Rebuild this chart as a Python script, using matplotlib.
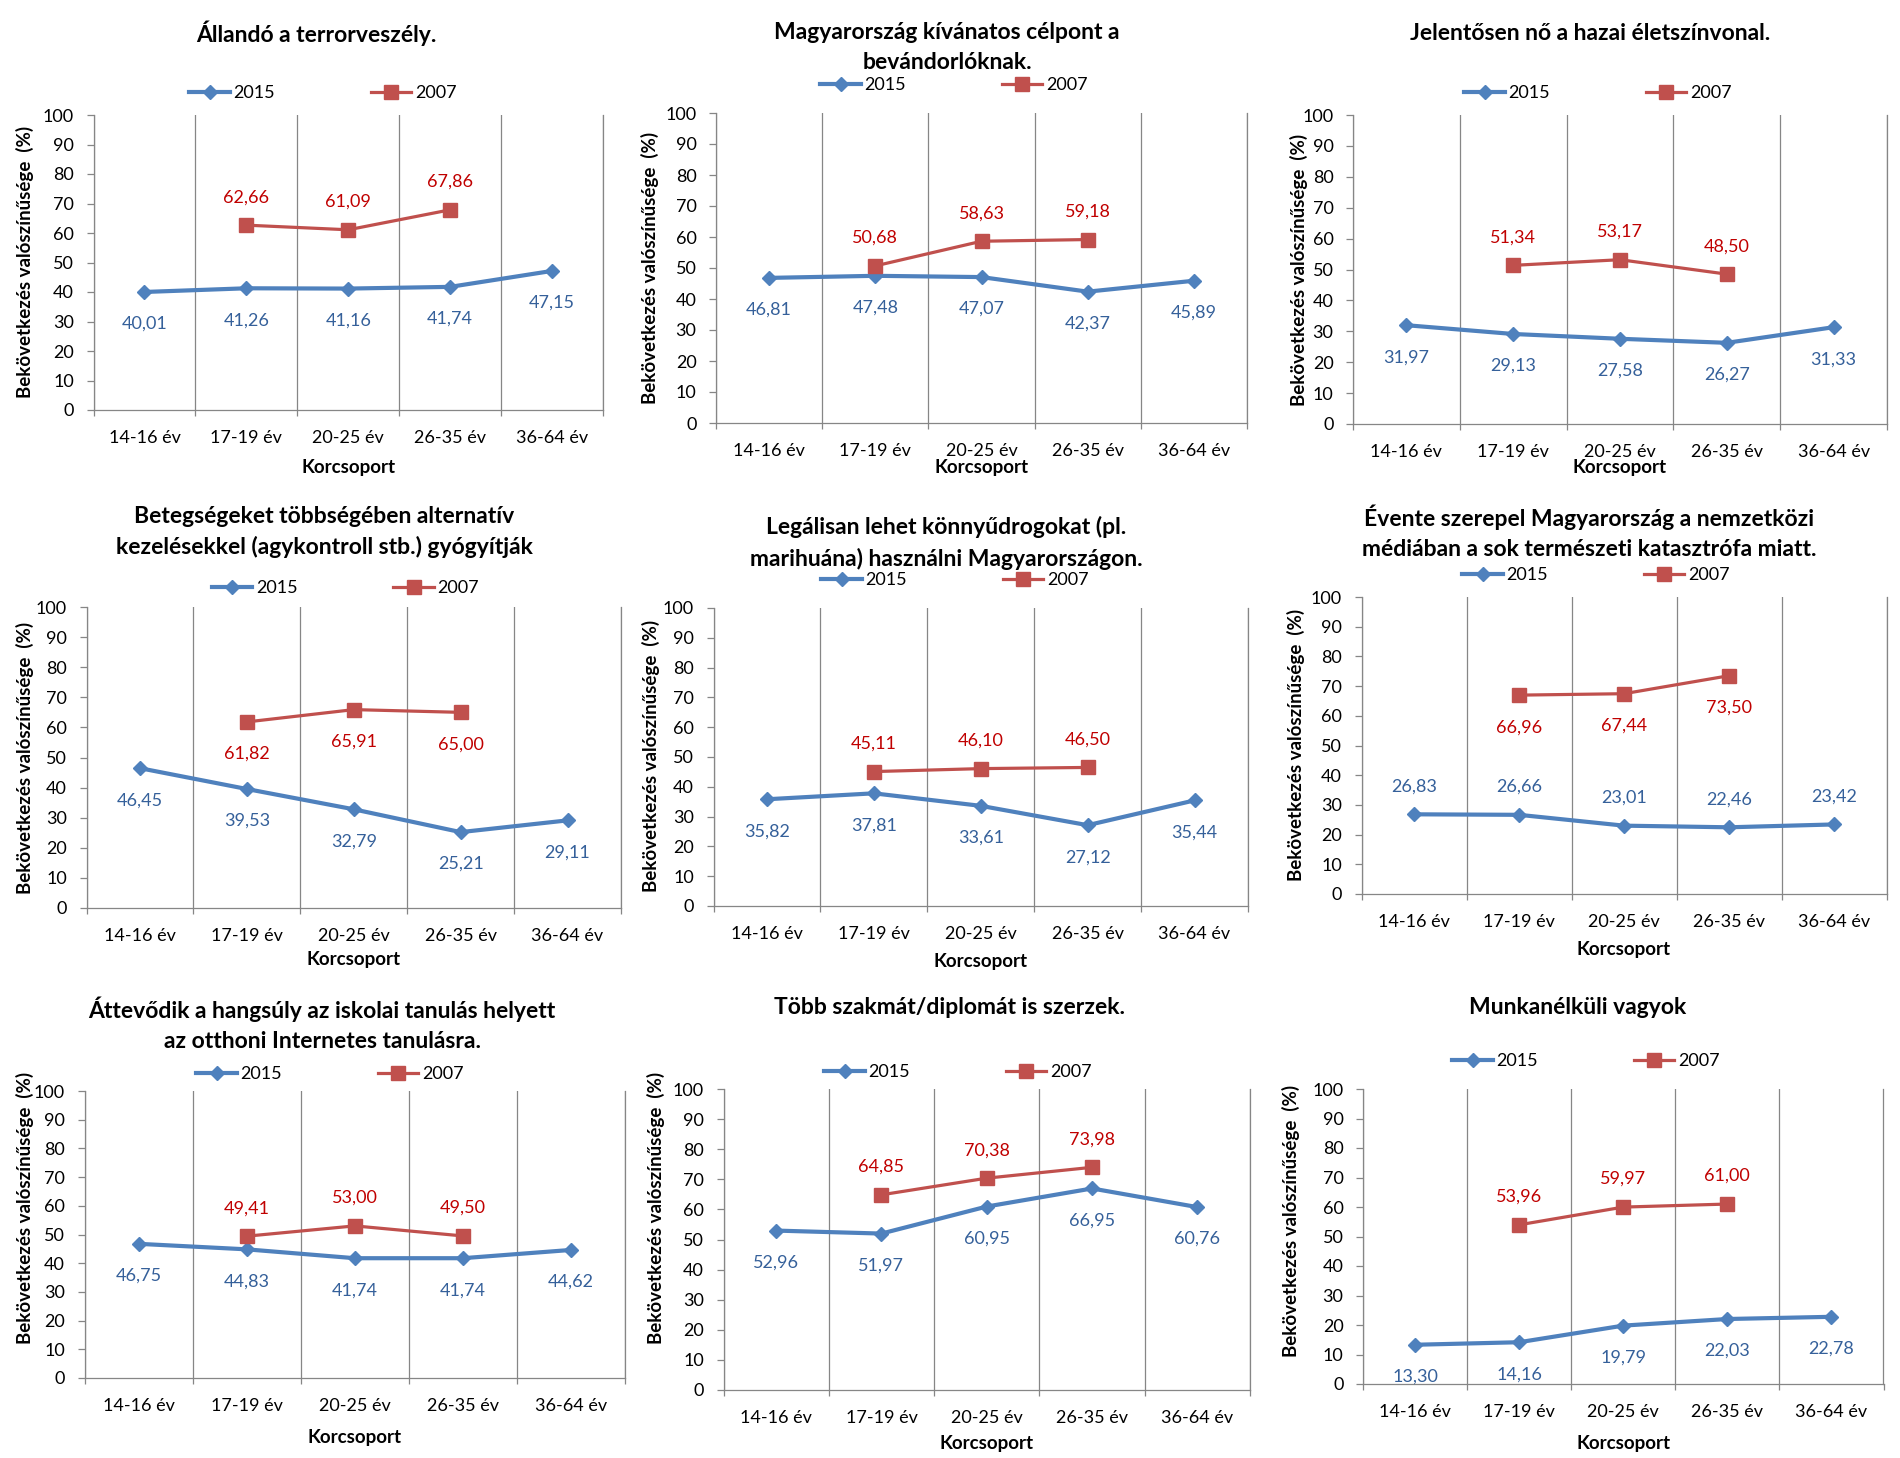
import numpy as np
import matplotlib
matplotlib.use('Agg')
import matplotlib.pyplot as plt
from matplotlib.lines import Line2D
from matplotlib.ticker import FixedLocator

plt.rcParams['font.family'] = ['Lato', 'DejaVu Sans']

# ---------------- data ----------------
categories = ['14-16 év', '17-19 év', '20-25 év', '26-35 év', '36-64 év']
series_names = ['2015', '2007']
y_ticks = [0, 10, 20, 30, 40, 50, 60, 70, 80, 90, 100]
y_label = 'Bekövetkezés valószínűsége  (%)'
x_label = 'Korcsoport'

titles = [
    'Állandó a terrorveszély.',
    'Magyarország kívánatos célpont a\nbevándorlóknak.',
    'Jelentősen nő a hazai életszínvonal.',
    'Betegségeket többségében alternatív\nkezelésekkel (agykontroll stb.) gyógyítják',
    'Legálisan lehet könnyűdrogokat (pl.\nmarihuána) használni Magyarországon.',
    'Évente szerepel Magyarország a nemzetközi\nmédiában a sok természeti katasztrófa miatt.',
    'Áttevődik a hangsúly az iskolai tanulás helyett\naz otthoni Internetes tanulásra.',
    'Több szakmát/diplomát is szerzek.',
    'Munkanélküli vagyok',
]

values_2015 = [
    [40.01, 41.26, 41.16, 41.74, 47.15],
    [46.81, 47.48, 47.07, 42.37, 45.89],
    [31.97, 29.13, 27.58, 26.27, 31.33],
    [46.45, 39.53, 32.79, 25.21, 29.11],
    [35.82, 37.81, 33.61, 27.12, 35.44],
    [26.83, 26.66, 23.01, 22.46, 23.42],
    [46.75, 44.83, 41.74, 41.74, 44.62],
    [52.96, 51.97, 60.95, 66.95, 60.76],
    [13.30, 14.16, 19.79, 22.03, 22.78],
]

values_2007 = [
    [None, 62.66, 61.09, 67.86, None],
    [None, 50.68, 58.63, 59.18, None],
    [None, 51.34, 53.17, 48.50, None],
    [None, 61.82, 65.91, 65.00, None],
    [None, 45.11, 46.10, 46.50, None],
    [None, 66.96, 67.44, 73.50, None],
    [None, 49.41, 53.00, 49.50, None],
    [None, 64.85, 70.38, 73.98, None],
    [None, 53.96, 59.97, 61.00, None],
]

# ---------------- layout (pixels in a 1900x1458 canvas) ----------------
W, H = 1900, 1458
# plot box (L, R, T, B), title centre, legend centre, ylabel centre, xlabel y, label sides (2015, 2007)
layout = [
    dict(box=(93.5, 603, 115, 410), title=(316, 33), leg=(323, 93), ylab=(25, 262), xlab=468, sides=(-1, 1)),
    dict(box=(716, 1247, 113, 423), title=(947, 47.5), leg=(954, 85), ylab=(650, 268), xlab=467, sides=(-1, 1)),
    dict(box=(1353, 1887, 115, 424), title=(1590, 33), leg=(1598, 93), ylab=(1299, 269.5), xlab=468, sides=(-1, 1)),
    dict(box=(86.5, 621, 607, 908), title=(324.5, 532), leg=(345.5, 588), ylab=(24.5, 757.5), xlab=960, sides=(-1, -1)),
    dict(box=(713.5, 1248, 608, 906), title=(946, 543), leg=(955, 580), ylab=(651, 756), xlab=962, sides=(-1, 1)),
    dict(box=(1361.5, 1886.5, 597, 894), title=(1589, 532), leg=(1596, 575), ylab=(1296, 745), xlab=950, sides=(1, -1)),
    dict(box=(84.5, 625, 1091, 1378), title=(322, 1024), leg=(330, 1074), ylab=(24.5, 1208), xlab=1437, sides=(-1, 1)),
    dict(box=(723.5, 1250, 1089, 1390), title=(950, 1008), leg=(958, 1072), ylab=(655.5, 1208), xlab=1443, sides=(-1, 1)),
    dict(box=(1363, 1883.5, 1089, 1384), title=(1578, 1008), leg=(1586, 1061), ylab=(1291, 1221), xlab=1443, sides=(-1, 1)),
]

BLUE = '#4F81BD'
RED = '#C0504D'
BLUE_TXT = '#35609A'
RED_TXT = '#C00000'
GRID = '#868686'

styles = [
    dict(color=BLUE, lw=3.0, marker='D', ms=7.2, txt=BLUE_TXT),
    dict(color=RED, lw=2.3, marker='s', ms=10.0, txt=RED_TXT),
]

fig = plt.figure(figsize=(W / 100, H / 100), dpi=100)
fig.patch.set_facecolor('white')

x = np.arange(1, len(categories) + 1)

for i, lay in enumerate(layout):
    L, R, T, B = lay['box']
    ax = fig.add_axes([L / W, 1 - B / H, (R - L) / W, (B - T) / H])
    ax.set_xlim(0.5, len(categories) + 0.5)
    ax.set_ylim(0, 100)

    ax.spines['top'].set_visible(False)
    for spine in ['left', 'bottom', 'right']:
        ax.spines[spine].set_color(GRID)
        ax.spines[spine].set_linewidth(0.9)

    # x: labels at category centres, tick marks at boundaries
    ax.set_xticks(x)
    ax.set_xticklabels(categories, fontsize=13)
    ax.tick_params(axis='x', which='major', length=0, pad=14.5)
    ax.xaxis.set_minor_locator(FixedLocator(np.arange(0.5, len(categories) + 1, 1.0)))
    ax.tick_params(axis='x', which='minor', length=4.5, width=0.9, color=GRID, direction='out')
    ax.grid(axis='x', which='minor', color=GRID, linewidth=0.9)
    ax.grid(axis='x', which='major', visible=False)

    ax.set_yticks(y_ticks)
    ax.set_yticklabels([str(t) for t in y_ticks], fontsize=13)
    ax.tick_params(axis='y', length=5, width=0.9, color=GRID, pad=9)

    series = [values_2015[i], values_2007[i]]
    handles = []
    for s, (vals, st) in enumerate(zip(series, styles)):
        yv = np.array([np.nan if v is None else v for v in vals], dtype=float)
        ax.plot(x, yv, color=st['color'], lw=st['lw'], marker=st['marker'],
                ms=st['ms'], mec=st['color'], mfc=st['color'], zorder=3 + s,
                solid_joinstyle='round', clip_on=False)
        handles.append(Line2D([], [], color=st['color'], lw=st['lw'], marker=st['marker'],
                              ms=st['ms'] * 0.95, mec=st['color'], mfc=st['color']))
        side = lay['sides'][s]
        for xi, v in zip(x, vals):
            if v is None:
                continue
            off = 28 if side > 0 else -32
            ax.annotate(f'{v:.2f}'.replace('.', ','), (xi, v), xytext=(0, off),
                        textcoords='offset pixels', ha='center', va='center',
                        fontsize=13, color=st['txt'], zorder=6)

    # title
    tx, ty = lay['title']
    fig.text(tx / W, 1 - ty / H, titles[i], ha='center', va='center',
             fontsize=16.5, fontweight='bold', color='black', linespacing=1.5)

    # legend
    lx, ly = lay['leg']
    fig.legend(handles, series_names, loc='center', bbox_to_anchor=(lx / W, 1 - ly / H),
               bbox_transform=fig.transFigure, ncol=2, frameon=False, fontsize=13,
               handlelength=2.25, handletextpad=0.2, columnspacing=5.3, borderpad=0.2)

    # axis titles
    yx, yy = lay['ylab']
    fig.text(yx / W, 1 - yy / H, y_label, rotation=90, ha='center', va='center',
             fontsize=13.5, fontweight='bold', color='black')
    fig.text(((L + R) / 2) / W, 1 - lay['xlab'] / H, x_label, ha='center', va='center',
             fontsize=13.5, fontweight='bold', color='black')

fig.savefig('out.png', dpi=100, facecolor='white')
